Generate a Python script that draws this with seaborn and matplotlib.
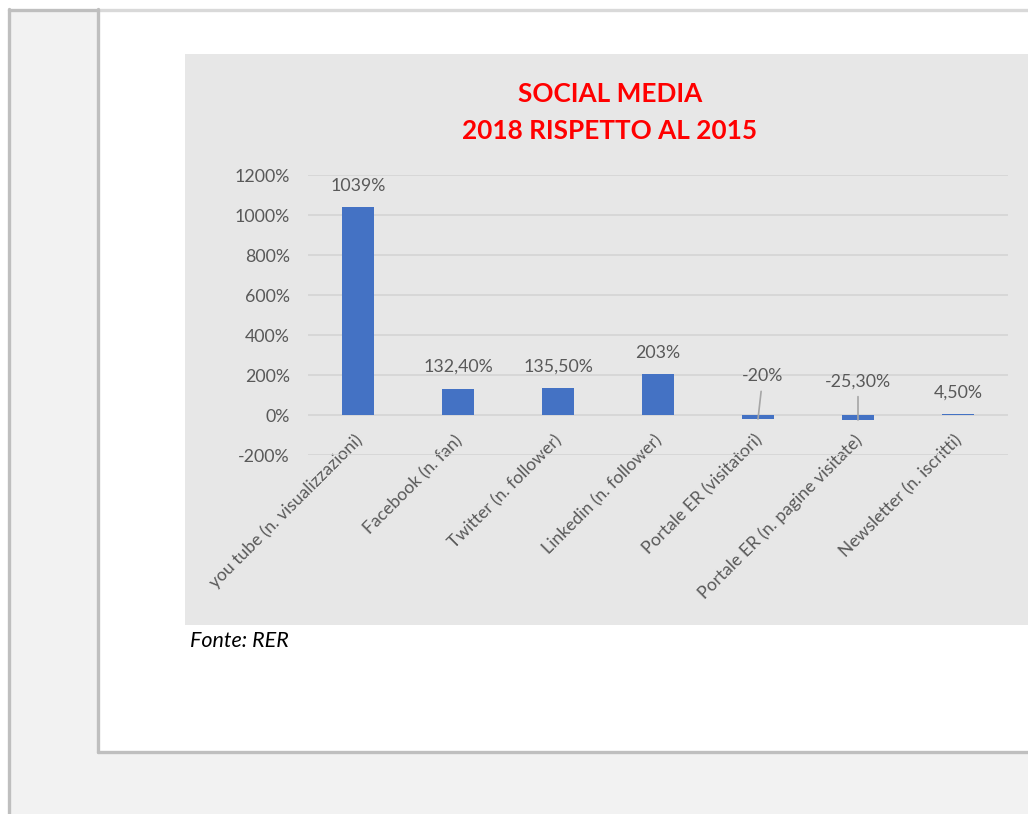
import matplotlib
matplotlib.use("Agg")
import matplotlib.pyplot as plt
import matplotlib.transforms as mtransforms
import seaborn as sns
from matplotlib.patches import Rectangle
from matplotlib.lines import Line2D

# Data
categories = [
    "you tube (n. visualizzazioni)",
    "Facebook (n. fan)",
    "Twitter (n. follower)",
    "Linkedin (n. follower)",
    "Portale ER (visitatori)",
    "Portale ER (n. pagine visitate)",
    "Newsletter (n. iscritti)",
]
values = [1039, 132.4, 135.5, 203, -20, -25.3, 4.5]
value_labels = ["1039%", "132,40%", "135,50%", "203%", "-20%", "-25,30%", "4,50%"]
y_ticks = [-200, 0, 200, 400, 600, 800, 1000, 1200]

sns.set_style("white")
plt.rcParams["font.family"] = ["Lato", "DejaVu Sans"]

W, H = 1028, 814
fig = plt.figure(figsize=(W / 100, H / 100), dpi=100, facecolor="white")


def fx(px):
    return px / W


def fy(py):
    return 1 - py / H


# page frame (document screenshot look)
fig.patches.append(Rectangle((fx(9), fy(900)), fx(1100), fy(9) - fy(900),
                             transform=fig.transFigure, facecolor="#f2f2f2",
                             edgecolor="none", zorder=0))
fig.patches.append(Rectangle((fx(98), fy(751)), fx(1100), fy(11) - fy(751),
                             transform=fig.transFigure, facecolor="white",
                             edgecolor="none", zorder=0))
for (x0, y0, x1, y1, c) in [
    (9, 9, 9, 814, "#bfbfbf"),
    (9, 9.5, 98, 9.5, "#bfbfbf"),
    (98, 9.5, 1028, 9.5, "#d9d9d9"),
    (98, 9, 98, 752, "#bfbfbf"),
    (98, 751.5, 1028, 751.5, "#bfbfbf"),
]:
    fig.lines.append(Line2D([fx(x0), fx(x1)], [fy(y0), fy(y1)],
                            transform=fig.transFigure, color=c, linewidth=2.4, zorder=1))

# chart image background
fig.patches.append(Rectangle((fx(185), fy(625)), fx(1100), fy(54) - fy(625),
                             transform=fig.transFigure, facecolor="#e7e7e7",
                             edgecolor="none", zorder=1))

ax = fig.add_axes([fx(308), fy(455), fx(1008) - fx(308), fy(175) - fy(455)])
ax.set_zorder(5)
ax.set_facecolor("none")

sns.barplot(x=categories, y=values, color="#4472c4", width=0.32,
            saturation=1, linewidth=0, ax=ax, zorder=3)

ax.set_ylim(-200, 1200)
ax.set_xlim(-0.5, len(categories) - 0.5)
ax.set_yticks(y_ticks)
ax.set_yticklabels([f"{t}%" for t in y_ticks])
ax.yaxis.grid(True, color="#d4d4d4", linewidth=1.2, zorder=0)
ax.set_axisbelow(True)
for s in ax.spines.values():
    s.set_visible(False)
ax.tick_params(axis="y", length=0, pad=13, labelsize=12.8, labelcolor="#595959")
ax.tick_params(axis="x", length=0, pad=-16.5, labelsize=12.6, labelcolor="#595959")
shift = mtransforms.ScaledTranslation(-4 / 100, 0, fig.dpi_scale_trans)
for lbl in ax.get_xticklabels():
    lbl.set_rotation(45)
    lbl.set_ha("right")
    lbl.set_rotation_mode("anchor")
    lbl.set_transform(lbl.get_transform() + shift)
ax.set_xlabel("")
ax.set_ylabel("")

# data labels
for i, (v, lab) in enumerate(zip(values, value_labels)):
    if v >= 0:
        ax.annotate(lab, xy=(i, v), xytext=(0, 15.5), textcoords="offset points",
                    ha="center", va="center", fontsize=12.8, color="#595959")
    else:
        off = (3.5, 31) if i == 4 else (0, 28)
        ax.annotate(lab, xy=(i, v), xytext=off, textcoords="offset points",
                    ha="center", va="center", fontsize=12.8, color="#595959",
                    arrowprops=dict(arrowstyle="-", color="#a6a6a6", lw=1.2,
                                    shrinkA=3, shrinkB=0))

fig.text(fx(610), fy(94), "SOCIAL MEDIA", ha="center", va="center",
         fontsize=18.8, fontweight="bold", color="#ff0000")
fig.text(fx(610), fy(131), "2018 RISPETTO AL 2015", ha="center", va="center",
         fontsize=18.8, fontweight="bold", color="#ff0000")

fig.text(fx(190), fy(641), "Fonte: RER", ha="left", va="center",
         fontsize=15.5, style="italic", color="black")

fig.savefig("out.png", dpi=100, facecolor=fig.get_facecolor())
